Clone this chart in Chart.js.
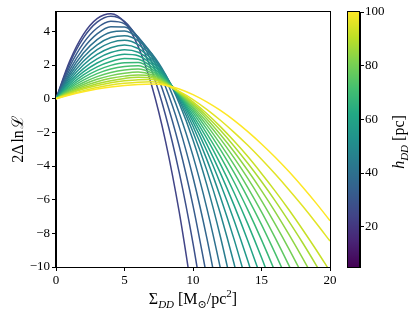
<!DOCTYPE html>
<html lang="en">
<head>
<meta charset="UTF-8">
<title>2ΔlnL vs Σ_DD</title>
<script src="https://cdn.jsdelivr.net/npm/chart.js"></script>
<style>
  body { margin: 0; background: #fff; }
  #wrap { position: relative; width: 415px; height: 315px; }
  #main { position: absolute; left: 0; top: 0; }
  #cbar { position: absolute; left: 347px; top: 0; }
</style>
</head>
<body>
<div id="wrap">
  <canvas id="main" width="415" height="315"></canvas>
  <canvas id="cbar" width="68" height="315"></canvas>
</div>
<script>
// Sigma_DD grid (M_sun/pc^2) and one 2ΔlnL curve per disc scale height h_DD (pc)
const sigma = [0, 1, 2, 3, 4, 5, 6, 7, 8, 9, 10, 11, 12, 13, 14, 15, 16, 17, 18, 19, 20];
const hValues = [24, 28, 32, 36, 40, 44, 48, 52, 56, 60, 64, 68, 72, 76, 80, 84, 88, 92, 96, 100];

const curveH24 = [0, 2.23, 3.82, 4.76, 5.05, 4.54, 3.10, 0.74, -2.55, -6.76, -11.90];
const curveH28 = [0, 2.10, 3.61, 4.55, 4.90, 4.59, 3.50, 1.64, -1.00, -4.41, -8.59, -13.55];
const curveH32 = [0, 1.90, 3.30, 4.20, 4.60, 4.45, 3.64, 2.16, 0.00, -2.84, -6.35, -10.54];
const curveH36 = [0, 1.71, 2.99, 3.85, 4.28, 4.26, 3.66, 2.47, 0.69, -1.69, -4.67, -8.24, -12.40];
const curveH40 = [0, 1.54, 2.71, 3.51, 3.95, 4.02, 3.59, 2.64, 1.16, -0.86, -3.40, -6.47, -10.08, -14.21];
const curveH44 = [0, 1.39, 2.46, 3.20, 3.63, 3.74, 3.44, 2.67, 1.43, -0.28, -2.45, -5.09, -8.20, -11.77];
const curveH48 = [0, 1.25, 2.22, 2.91, 3.33, 3.47, 3.21, 2.51, 1.40, -0.10, -1.98, -4.23, -6.84, -9.81, -13.14];
const curveH52 = [0, 1.12, 2.00, 2.63, 3.03, 3.19, 2.98, 2.34, 1.34, 0.01, -1.64, -3.59, -5.84, -8.36, -11.16];
const curveH56 = [0, 1.00, 1.79, 2.37, 2.74, 2.91, 2.76, 2.19, 1.28, 0.09, -1.38, -3.09, -5.05, -7.23, -9.63, -12.25];
const curveH60 = [0, 0.89, 1.59, 2.12, 2.47, 2.64, 2.55, 2.04, 1.22, 0.14, -1.17, -2.70, -4.42, -6.34, -8.44, -10.71];
const curveH64 = [0, 0.78, 1.41, 1.89, 2.21, 2.38, 2.34, 1.89, 1.16, 0.19, -0.99, -2.35, -3.89, -5.59, -7.44, -9.44, -11.58];
const curveH68 = [0, 0.69, 1.25, 1.68, 1.98, 2.14, 2.15, 1.76, 1.10, 0.23, -0.83, -2.06, -3.43, -4.95, -6.61, -8.39, -10.30, -12.32];
const curveH72 = [0, 0.61, 1.10, 1.49, 1.76, 1.91, 1.95, 1.64, 1.05, 0.27, -0.69, -1.79, -3.03, -4.40, -5.89, -7.48, -9.19, -11.00];
const curveH76 = [0, 0.53, 0.96, 1.31, 1.55, 1.70, 1.76, 1.53, 1.01, 0.30, -0.57, -1.57, -2.70, -3.93, -5.28, -6.72, -8.27, -9.90, -11.61];
const curveH80 = [0, 0.46, 0.84, 1.15, 1.37, 1.51, 1.58, 1.42, 0.97, 0.33, -0.46, -1.37, -2.39, -3.52, -4.74, -6.05, -7.45, -8.92, -10.48, -12.10];
const curveH84 = [0, 0.40, 0.74, 1.01, 1.21, 1.34, 1.41, 1.33, 0.93, 0.35, -0.36, -1.19, -2.13, -3.15, -4.27, -5.46, -6.72, -8.06, -9.47, -10.95];
const curveH88 = [0, 0.35, 0.65, 0.89, 1.07, 1.20, 1.27, 1.24, 0.90, 0.37, -0.28, -1.03, -1.88, -2.82, -3.84, -4.92, -6.07, -7.29, -8.56, -9.90, -11.29];
const curveH92 = [0, 0.31, 0.57, 0.78, 0.95, 1.06, 1.13, 1.14, 0.86, 0.40, -0.19, -0.88, -1.66, -2.52, -3.44, -4.44, -5.49, -6.60, -7.77, -8.99, -10.26];
const curveH96 = [0, 0.26, 0.48, 0.67, 0.81, 0.91, 0.98, 1.00, 0.81, 0.43, -0.05, -0.63, -1.28, -2.00, -2.77, -3.60, -4.48, -5.41, -6.38, -7.40, -8.46];
const curveH100 = [0, 0.22, 0.41, 0.57, 0.69, 0.78, 0.84, 0.87, 0.80, 0.58, 0.24, -0.19, -0.70, -1.29, -1.96, -2.69, -3.48, -4.33, -5.25, -6.22, -7.25];

const curves = [curveH24, curveH28, curveH32, curveH36, curveH40, curveH44, curveH48, curveH52, curveH56, curveH60,
                curveH64, curveH68, curveH72, curveH76, curveH80, curveH84, curveH88, curveH92, curveH96, curveH100];

const xTicks = [0, 5, 10, 15, 20];
const yTicks = [-10, -8, -6, -4, -2, 0, 2, 4];
const cbTicks = [20, 40, 60, 80, 100];
const hMin = 5, hMax = 100;

// viridis colormap, sampled every 0.1
const VIRIDIS = ['#440154', '#482475', '#414487', '#355f8d', '#2a788e', '#21918c',
                 '#22a884', '#44bf70', '#7ad151', '#bddf26', '#fde725'];

function hexRgb(h) {
    return [parseInt(h.slice(1, 3), 16), parseInt(h.slice(3, 5), 16), parseInt(h.slice(5, 7), 16)];
}

function viridis(t) {
    t = Math.min(1, Math.max(0, t));
    const s = t * 10;
    const i = Math.min(9, Math.floor(s));
    const f = s - i;
    const a = hexRgb(VIRIDIS[i]), b = hexRgb(VIRIDIS[i + 1]);
    const c = a.map((v, j) => Math.round(v + (b[j] - v) * f));
    return 'rgb(' + c.join(',') + ')';
}

const SERIF = "'Liberation Serif', 'DejaVu Serif', serif";
const tickFont = { family: SERIF, size: 13 };
const minus = v => String(v).replace('-', '\u2212');

// draws a run of text pieces centred on (cx, cy), baseline at cy
function drawRich(ctx, parts, cx, cy, angle) {
    ctx.save();
    ctx.translate(cx, cy);
    ctx.rotate(angle);
    let w = 0;
    parts.forEach(p => {
        ctx.font = p.font;
        p.w = ctx.measureText(p.t).width;
        w += p.w + (p.gap || 0);
    });
    let x = -w / 2;
    ctx.fillStyle = '#000';
    ctx.textBaseline = 'alphabetic';
    ctx.textAlign = 'left';
    parts.forEach(p => {
        ctx.font = p.font;
        ctx.fillText(p.t, x, p.dy || 0);
        x += p.w + (p.gap || 0);
    });
    ctx.restore();
}

const big = '16px ' + SERIF;
const bigIt = 'italic 16px ' + SERIF;
const small = '11px ' + SERIF;
const smallIt = 'italic 11px ' + SERIF;

const framePlugin = {
    id: 'frame',
    afterDraw(chart) {
        const ctx = chart.ctx;
        const a = chart.chartArea;
        ctx.save();
        ctx.strokeStyle = '#000';
        ctx.lineWidth = 1;
        ctx.strokeRect(Math.round(a.left) - 0.5, Math.round(a.top) - 0.5,
                       Math.round(a.right - a.left) + 1, Math.round(a.bottom - a.top) + 1);
        ctx.restore();

        const cx = (a.left + a.right) / 2;
        drawRich(ctx, [
            { t: 'Σ', font: big },
            { t: 'DD', font: smallIt, dy: 4, gap: 4 },
            { t: '[M', font: big },
            { t: '⊙', font: small, dy: 4 },
            { t: '/pc', font: big },
            { t: '2', font: small, dy: -7 },
            { t: ']', font: big }
        ], cx, 304, 0);

        drawRich(ctx, [
            { t: '2Δ', font: big, gap: 2 },
            { t: 'ln', font: big, gap: 1 },
            { t: 'ℒ', font: big }
        ], 23, (a.top + a.bottom) / 2, -Math.PI / 2);
    }
};

const datasets = curves.map((vals, k) => ({
    data: vals.map((v, i) => ({ x: sigma[i], y: v })),
    borderColor: viridis((hValues[k] - hMin) / (hMax - hMin)),
    borderWidth: 1.5,
    pointRadius: 0,
    showLine: true,
    fill: false,
    cubicInterpolationMode: 'monotone',
    clip: 0,
    order: curves.length - k
}));

new Chart(document.getElementById('main'), {
    type: 'scatter',
    data: { datasets },
    options: {
        responsive: false,
        animation: false,
        devicePixelRatio: 1,
        layout: { padding: { left: 0, top: 12, right: 85, bottom: 0 } },
        plugins: { legend: { display: false }, tooltip: { enabled: false } },
        scales: {
            x: {
                type: 'linear',
                min: 0, max: 20,
                afterBuildTicks: s => { s.ticks = xTicks.map(v => ({ value: v })); },
                afterFit: s => { s.height = 48; },
                grid: { drawOnChartArea: false, drawTicks: true, tickLength: 4, color: '#000' },
                border: { display: true, color: '#000' },
                ticks: { font: tickFont, color: '#000', padding: 2, maxRotation: 0, callback: minus }
            },
            y: {
                type: 'linear',
                min: -10, max: 5.15,
                afterBuildTicks: s => { s.ticks = yTicks.map(v => ({ value: v })); },
                afterFit: s => { s.width = 56; },
                grid: { drawOnChartArea: false, drawTicks: true, tickLength: 4, color: '#000' },
                border: { display: true, color: '#000' },
                ticks: { font: tickFont, color: '#000', padding: 2, callback: minus }
            }
        }
    },
    plugins: [framePlugin]
});

// colour bar
const cbarPlugin = {
    id: 'cbar',
    beforeDraw(chart) {
        const ctx = chart.ctx;
        const a = chart.chartArea;
        const g = ctx.createLinearGradient(0, a.bottom, 0, a.top);
        VIRIDIS.forEach((c, i) => g.addColorStop(i / 10, c));
        ctx.save();
        ctx.fillStyle = g;
        ctx.fillRect(a.left, a.top, a.right - a.left, a.bottom - a.top);
        ctx.restore();
    },
    afterDraw(chart) {
        const ctx = chart.ctx;
        const a = chart.chartArea;
        ctx.save();
        ctx.strokeStyle = '#000';
        ctx.lineWidth = 1;
        ctx.strokeRect(Math.round(a.left) + 0.5, Math.round(a.top) - 0.5,
                       Math.round(a.right - a.left) - 1, Math.round(a.bottom - a.top) + 1);
        ctx.restore();
        drawRich(ctx, [
            { t: 'h', font: bigIt },
            { t: 'DD', font: smallIt, dy: 4, gap: 4 },
            { t: '[pc]', font: big }
        ], 57, 142, -Math.PI / 2);
    }
};

new Chart(document.getElementById('cbar'), {
    type: 'scatter',
    data: { datasets: [] },
    options: {
        responsive: false,
        animation: false,
        devicePixelRatio: 1,
        layout: { padding: { left: 0, top: 12, right: 0, bottom: 48 } },
        plugins: { legend: { display: false }, tooltip: { enabled: false } },
        scales: {
            x: { display: false, min: 0, max: 1 },
            y: {
                position: 'right',
                min: hMin, max: hMax,
                afterBuildTicks: s => { s.ticks = cbTicks.map(v => ({ value: v })); },
                afterFit: s => { s.width = 55; },
                grid: { drawOnChartArea: false, drawTicks: true, tickLength: 4, color: '#000' },
                border: { display: true, color: '#000' },
                ticks: { font: tickFont, color: '#000', padding: 1 }
            }
        }
    },
    plugins: [cbarPlugin]
});
</script>
</body>
</html>
